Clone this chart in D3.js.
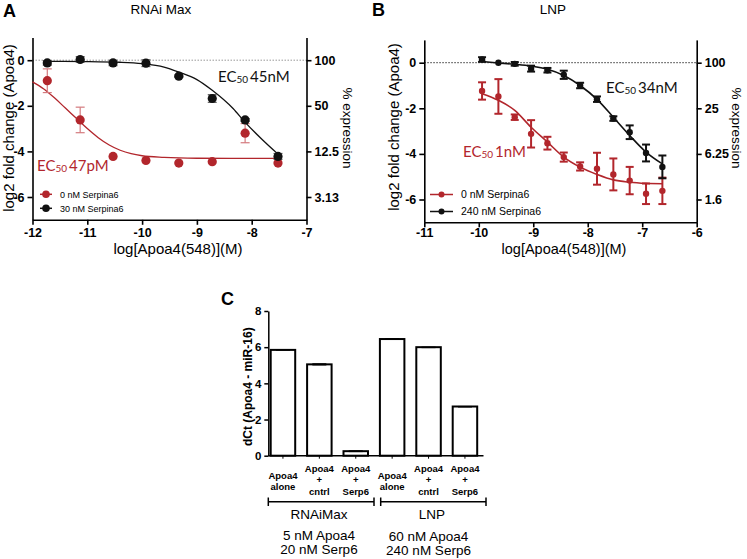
<!DOCTYPE html>
<html><head><meta charset="utf-8">
<script src="https://cdn.jsdelivr.net/npm/d3@7"></script>
<style>body{margin:0;background:#fff}svg{display:block}</style>
</head><body>
<script>
// ---------- DATA ----------
// Panel A (RNAi Max)
const xA_pts = [-11.73,-11.13,-10.53,-9.93,-9.33,-8.72,-8.12,-7.52];
const A_red_y = [-0.9,-2.62,-4.22,-4.40,-4.51,-4.45,-3.2,-4.51];
const A_red_err = [0.52,0.56,0,0,0,0,0.42,0];
const A_blk_y = [-0.12,0.03,-0.12,-0.13,-0.70,-1.68,-2.62,-4.22];
const A_blk_err = [0.1,0.12,0.12,0.15,0.05,0.17,0.06,0.13];
const A_red_curve = [[-12,-0.95],[-11.8,-1.25],[-11.6,-1.65],[-11.4,-2.1],[-11.2,-2.55],[-11.0,-3.0],[-10.8,-3.4],[-10.6,-3.72],[-10.4,-3.95],[-10.2,-4.1],[-10.0,-4.19],[-9.6,-4.26],[-9.0,-4.3],[-8.0,-4.31],[-7.52,-4.31]];
const A_blk_curve = [[-11.73,-0.05],[-11.0,-0.06],[-10.4,-0.09],[-10.0,-0.15],[-9.6,-0.3],[-9.33,-0.52],[-9.0,-0.85],[-8.72,-1.32],[-8.34,-2.12],[-8.11,-2.75],[-7.8,-3.5],[-7.52,-4.12]];
const A_xticks = [-12,-11,-10,-9,-8,-7];
const A_right_labels = ["100","50","12.5","3.13"];
// Panel B (LNP)
const xB_pts = [-9.94,-9.64,-9.34,-9.04,-8.74,-8.44,-8.14,-7.83,-7.53,-7.23,-6.93,-6.63];
const B_red_y = [-1.24,-1.48,-2.39,-3.12,-3.53,-4.14,-4.55,-4.65,-4.9,-5.17,-5.75,-5.62];
const B_red_err = [0.38,0.76,0.12,0.6,0.28,0.2,0.18,0.7,0.7,0.6,0.45,0.58];
const B_blk_y = [0.14,0,-0.05,-0.26,-0.33,-0.53,-1.0,-1.6,-2.45,-3.05,-3.96,-4.57];
const B_blk_err = [0.1,0,0.08,0.13,0.1,0.18,0.12,0.12,0.1,0.3,0.37,0.5];
const B_red_curve = [[-9.94,-1.36],[-9.64,-1.65],[-9.34,-2.09],[-9.04,-2.83],[-8.74,-3.48],[-8.44,-4.14],[-8.14,-4.58],[-7.83,-4.9],[-7.53,-5.14],[-7.23,-5.24],[-6.93,-5.29],[-6.63,-5.31]];
const B_blk_curve = [[-9.94,0.05],[-9.64,-0.01],[-9.34,-0.07],[-9.04,-0.15],[-8.74,-0.29],[-8.44,-0.56],[-8.14,-1.0],[-7.83,-1.61],[-7.53,-2.39],[-7.23,-3.19],[-6.93,-3.92],[-6.63,-4.44]];
const B_xticks = [-11,-10,-9,-8,-7,-6];
const B_right_labels = ["100","25","6.25","1.6"];
const yTicks = [0,-2,-4,-6];
// Panel C
const C_cats = ["r1","r2","r3","l1","l2","l3"];
const C_labels = [["Apoa4","alone"],["Apoa4","+","cntrl"],["Apoa4","+","Serp6"],["Apoa4","alone"],["Apoa4","+","cntrl"],["Apoa4","+","Serp6"]];
const C_vals = [5.85,5.05,0.25,6.45,6.0,2.72];
const C_err = [0.04,0.06,0.05,0.05,0.03,0.03];
const C_yticks = [0,2,4,6,8];

// ---------- DRAW ----------
const RED = "#b2262c", BLK = "#111";
const svg = d3.select("body").append("svg").attr("width",747).attr("height",559);
const AX = "'Liberation Sans', Arial, sans-serif";

function styleAxis(g, sw){
  g.selectAll("path.domain").attr("stroke","#000").attr("stroke-width",sw);
  g.selectAll(".tick line").attr("stroke","#000").attr("stroke-width",sw);
  g.selectAll(".tick text").attr("font-family",AX).attr("font-weight","bold").attr("font-size",12.5).attr("fill","#000");
}

function dosePanel(cfg){
  const x = d3.scaleLinear().domain(cfg.xdom).range(cfg.xr);
  const y = d3.scaleLinear().domain([-7,1]).range(cfg.yr);
  const g = svg.append("g");
  g.append("line").attr("x1",x(cfg.xdom[0])).attr("x2",x(cfg.xdom[1])).attr("y1",y(0)).attr("y2",y(0))
    .attr("stroke",cfg.dotColor).attr("stroke-width",1).attr("stroke-dasharray","1.5,1.5");
  const la = g.append("g").attr("transform",`translate(${cfg.xr[0]},0)`)
    .call(d3.axisLeft(y).tickValues(yTicks).tickFormat(d=>String(d)).tickSize(5).tickSizeOuter(0));
  styleAxis(la,1.6);
  const ra = g.append("g").attr("transform",`translate(${cfg.xr[1]},0)`)
    .call(d3.axisRight(y).tickValues(yTicks).tickFormat((d,i)=>cfg.rlabels[i]).tickSize(5).tickSizeOuter(0));
  styleAxis(ra,1.6);
  const ba = g.append("g").attr("transform",`translate(0,${cfg.yr[0]})`)
    .call(d3.axisBottom(x).tickValues(cfg.xticks).tickFormat(d=>String(d)).tickSize(5).tickPadding(cfg.tp).tickSizeOuter(0));
  styleAxis(ba,1.6);
  const line = d3.line().x(d=>x(d[0])).y(d=>y(d[1])).curve(d3.curveMonotoneX);
  cfg.series.forEach(s=>{
    g.append("path").datum(s.curve).attr("d",line).attr("fill","none").attr("stroke",s.color).attr("stroke-width",cfg.cw);
    s.y.forEach((v,i)=>{
      const e = s.err[i], cx = x(cfg.xs[i]);
      if(e>0){
        g.append("line").attr("x1",cx).attr("x2",cx).attr("y1",y(v+e)).attr("y2",y(v-e)).attr("stroke",s.ecolor).attr("stroke-width",cfg.ew);
        [v+e,v-e].forEach(t=>g.append("line").attr("x1",cx-cfg.cap).attr("x2",cx+cfg.cap).attr("y1",y(t)).attr("y2",y(t)).attr("stroke",s.ecolor).attr("stroke-width",cfg.ew));
      }
    });
    s.y.forEach((v,i)=>{
      g.append("circle").attr("cx",x(cfg.xs[i])).attr("cy",y(v)).attr("r",cfg.r).attr("fill",s.color);
    });
  });
  return {x,y,g};
}

dosePanel({xdom:[-12,-7], xr:[32.5,306.5], yr:[219.8,37.4], xticks:A_xticks, rlabels:A_right_labels, tp:3,
  dotColor:"#999", xs:xA_pts, r:4.6, cw:1.3, ew:1.2, cap:4.5,
  series:[{y:A_red_y, err:A_red_err, curve:A_red_curve, color:RED, ecolor:"#d47a7e"},
          {y:A_blk_y, err:A_blk_err, curve:A_blk_curve, color:BLK, ecolor:"#666"}]});
dosePanel({xdom:[-11,-6], xr:[424.3,696.7], yr:[222.3,39.9], xticks:B_xticks, rlabels:B_right_labels, tp:1,
  dotColor:"#333", xs:xB_pts, r:3.2, cw:1.6, ew:2, cap:4,
  series:[{y:B_red_y, err:B_red_err, curve:B_red_curve, color:RED, ecolor:RED},
          {y:B_blk_y, err:B_blk_err, curve:B_blk_curve, color:BLK, ecolor:BLK}]});

function txt(x,y,s,o){
  o=o||{};
  const t=svg.append("text").attr("x",x).attr("y",y).text(s)
    .attr("font-family",o.ff||AX).attr("font-size",o.fs||12).attr("fill",o.fill||"#000")
    .attr("font-weight",o.fw||"normal").attr("text-anchor",o.anchor||"start");
  if(o.rot) t.attr("transform",`rotate(${o.rot},${x},${y})`);
  return t;
}
txt(3,16.5,"A",{fs:18,fw:"bold"});
txt(372,16,"B",{fs:18,fw:"bold"});
txt(221,305,"C",{fs:18,fw:"bold"});
txt(161,14,"RNAi Max",{fs:13.5,anchor:"middle"});
txt(553,14,"LNP",{fs:13.5,anchor:"middle"});
txt(178,254,"log[Apoa4(548)](M)",{fs:15,anchor:"middle"});
txt(564,254,"log[Apoa4(548)](M)",{fs:14.5,anchor:"middle"});
txt(14,128,"log2 fold change (Apoa4)",{fs:15,anchor:"middle",rot:-90});
txt(399,127,"log2 fold change (Apoa4)",{fs:15,anchor:"middle",rot:-90});
txt(343,128,"% expression",{fs:13.5,anchor:"middle",rot:90});
txt(732,128,"% expression",{fs:13.5,anchor:"middle",rot:90});

function ec(x,y,num,color){
  const t=svg.append("text").attr("x",x).attr("y",y).attr("font-family","Lato, sans-serif").attr("font-size",15).attr("fill",color);
  t.append("tspan").text("EC");
  t.append("tspan").attr("font-size",10).attr("dy",1).text("50");
  t.append("tspan").attr("dy",-1).attr("dx",2).text(num);
}
ec(218,82,"45nM",BLK);
ec(37,171,"47pM",RED);
ec(606,93,"34nM",BLK);
ec(463,157,"1nM",RED);

function legend(x0,x1,tx,rows,r,fs){
  rows.forEach(rw=>{
    svg.append("line").attr("x1",x0).attr("x2",x1).attr("y1",rw.y).attr("y2",rw.y).attr("stroke",rw.c).attr("stroke-width",1.5);
    svg.append("circle").attr("cx",(x0+x1)/2).attr("cy",rw.y).attr("r",r).attr("fill",rw.c);
    txt(tx,rw.y+3.5,rw.t,{fs:fs});
  });
}
legend(40,52,60,[{y:194.3,c:RED,t:"0 nM Serpina6"},{y:208.3,c:BLK,t:"30 nM Serpina6"}],3.8,9);
legend(430,453,461,[{y:194.5,c:RED,t:"0 nM Serpina6"},{y:211.5,c:BLK,t:"240 nM Serpina6"}],3,10.5);

// ---------- Panel C ----------
const xC = d3.scaleBand().domain(C_cats).range([258.8,489.1]).padding(0.327);
const yC = d3.scaleLinear().domain([0,8]).range([455.7,311]);
const gC = svg.append("g");
const cy = gC.append("g").attr("transform","translate(268.3,0)")
  .call(d3.axisLeft(yC).tickValues(C_yticks).tickFormat(d=>String(d)).tickSize(4).tickSizeOuter(0));
styleAxis(cy,1.5);
cy.selectAll(".tick text").attr("font-size",11.5);
gC.append("line").attr("x1",268.3).attr("x2",483.5).attr("y1",yC(0)).attr("y2",yC(0)).attr("stroke","#000").attr("stroke-width",1.5);
C_cats.forEach((c,i)=>{
  const cx = xC(c)+xC.bandwidth()/2;
  gC.append("line").attr("x1",cx).attr("x2",cx).attr("y1",yC(0)).attr("y2",yC(0)+3).attr("stroke","#000").attr("stroke-width",1);
  gC.append("rect").attr("x",xC(c)).attr("y",yC(C_vals[i])).attr("width",xC.bandwidth()).attr("height",yC(0)-yC(C_vals[i]))
    .attr("fill","#fff").attr("stroke","#000").attr("stroke-width",2);
  gC.append("rect").attr("x",cx-7).attr("y",yC(C_vals[i]+C_err[i])).attr("width",14).attr("height",Math.max(1.5,yC(C_vals[i]-C_err[i])-yC(C_vals[i]+C_err[i])))
    .attr("fill","#000");
  const lines = C_labels[i];
  const ys = lines.length===2 ? [478.5,489.5] : [471.8,482.8,495.2];
  lines.forEach((l,k)=>txt(cx,ys[k],l,{fs:9.5,fw:"bold",anchor:"middle"}));
});
txt(252,386.7,"dCt (Apoa4 - miR-16)",{fs:12,fw:"bold",anchor:"middle",rot:-90});
[[268.3,374],[380.7,486]].forEach(b=>{
  svg.append("line").attr("x1",b[0]).attr("x2",b[1]).attr("y1",501.7).attr("y2",501.7).attr("stroke","#000").attr("stroke-width",1.5);
  b.forEach(xx=>svg.append("line").attr("x1",xx).attr("x2",xx).attr("y1",497.5).attr("y2",506).attr("stroke","#000").attr("stroke-width",1.5));
});
txt(319,518.5,"RNAiMax",{fs:13.5,anchor:"middle"});
txt(432,518.5,"LNP",{fs:13.5,anchor:"middle"});
txt(319,540,"5 nM Apoa4",{fs:13.5,anchor:"middle"});
txt(319,554,"20 nM Serp6",{fs:13.5,anchor:"middle"});
txt(428.5,540.5,"60 nM Apoa4",{fs:13.5,anchor:"middle"});
txt(428.5,554.5,"240 nM Serp6",{fs:13.5,anchor:"middle"});
</script>
</body></html>
